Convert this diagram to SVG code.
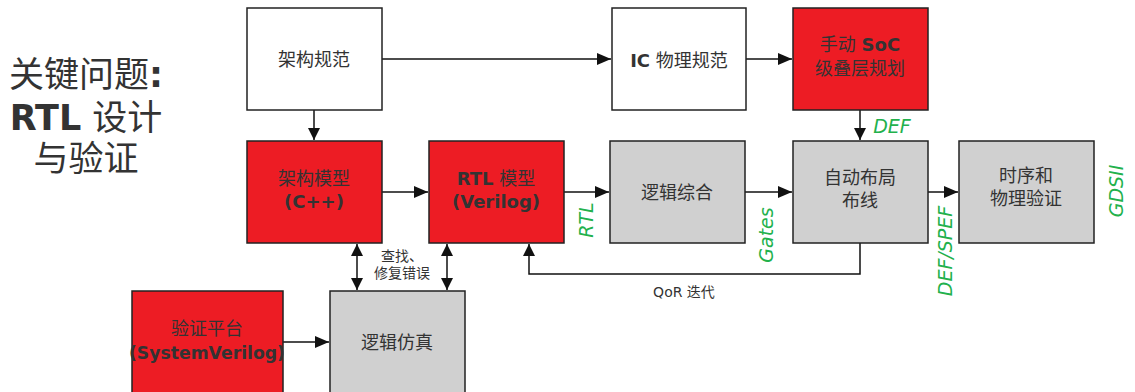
<svg xmlns="http://www.w3.org/2000/svg" width="1135" height="392" viewBox="0 0 1135 392">
<defs>
<style>
.box{stroke:#222;stroke-width:1.5}
.w{fill:#fff}.r{fill:#ED1C24}.g{fill:#D0D0D0}
text{font-family:"DejaVu Sans","Noto Sans CJK SC",sans-serif;fill:#333;text-anchor:middle;dominant-baseline:central}
.t{font-size:18px}
.b{font-weight:bold}
.gr{fill:#22B14C;font-style:italic;font-size:19px}
.s{font-size:14px}
.ttl{font-size:35px;fill:#333}
.ln{stroke:#111;stroke-width:1.5;fill:none}
</style>
<marker id="ah" viewBox="0 0 12 12" refX="12" refY="6" markerWidth="12" markerHeight="12" markerUnits="userSpaceOnUse" orient="auto-start-reverse"><path d="M0,0L12,6L0,12z" fill="#111"/></marker>
<marker id="ahb" viewBox="0 0 14 12" refX="14" refY="6" markerWidth="14" markerHeight="12" markerUnits="userSpaceOnUse" orient="auto-start-reverse"><path d="M0,0L14,6L0,12z" fill="#111"/></marker>
</defs>
<g id="title">
<text class="ttl" x="86" y="75">关键问题<tspan class="b">:</tspan></text>
<text class="ttl" x="86" y="118"><tspan class="b">RTL</tspan> 设计</text>
<text class="ttl" x="86" y="159">与验证</text>
</g>
<g id="connectors">
<line class="ln" x1="382" y1="59" x2="611" y2="59" marker-end="url(#ahb)"/>
<line class="ln" x1="746" y1="59" x2="792" y2="59" marker-end="url(#ahb)"/>
<line class="ln" x1="314" y1="110" x2="314" y2="140" marker-end="url(#ah)"/>
<line class="ln" x1="860" y1="110" x2="860" y2="140" marker-end="url(#ah)"/>
<line class="ln" x1="382" y1="192" x2="428" y2="192" marker-end="url(#ahb)"/>
<line class="ln" x1="564" y1="192" x2="609" y2="192" marker-end="url(#ahb)"/>
<line class="ln" x1="745" y1="192" x2="792" y2="192" marker-end="url(#ahb)"/>
<line class="ln" x1="928" y1="192" x2="958" y2="192" marker-end="url(#ahb)"/>
<line class="ln" x1="357" y1="244" x2="357" y2="290" marker-start="url(#ah)" marker-end="url(#ah)"/>
<line class="ln" x1="447" y1="244" x2="447" y2="290" marker-start="url(#ah)" marker-end="url(#ah)"/>
<line class="ln" x1="283" y1="342" x2="329" y2="342" marker-end="url(#ahb)"/>
<polyline class="ln" points="860,243 860,274 529,274 529,244" marker-end="url(#ah)"/>
<text class="s" x="684" y="292">QoR 迭代</text>
<text class="s" x="402" y="256">查找、</text>
<text class="s" x="402" y="273">修复错误</text>
<text class="gr" x="892" y="126">DEF</text>
<text class="gr" transform="translate(586,220) rotate(-90)">RTL</text>
<text class="gr" transform="translate(766,235) rotate(-90)">Gates</text>
<text class="gr" transform="translate(945,251) rotate(-90)">DEF/SPEF</text>
<text class="gr" transform="translate(1116,191) rotate(-90)">GDSII</text>
</g>
<g id="n1"><rect class="box w" x="247" y="8" width="135" height="102"/><text class="t" x="314" y="59">架构规范</text></g>
<g id="n2"><rect class="box w" x="612" y="8" width="134" height="102"/><text class="t" x="679" y="60"><tspan class="b">IC</tspan> 物理规范</text></g>
<g id="n3"><rect class="box r" x="793" y="8" width="135" height="102"/><text class="t" x="860" y="44">手动 <tspan class="b">SoC</tspan></text><text class="t" x="860" y="68">级叠层规划</text></g>
<g id="n4"><rect class="box r" x="247" y="141" width="135" height="102"/><text class="t" x="314" y="178">架构模型</text><text class="t b" x="314" y="201">(C++)</text></g>
<g id="n5"><rect class="box r" x="429" y="141" width="135" height="102"/><text class="t" x="496" y="178"><tspan class="b">RTL</tspan> 模型</text><text class="t b" x="496" y="201">(Verilog)</text></g>
<g id="n6"><rect class="box g" x="610" y="141" width="135" height="102"/><text class="t" x="677" y="192">逻辑综合</text></g>
<g id="n7"><rect class="box g" x="793" y="141" width="135" height="102"/><text class="t" x="860" y="177">自动布局</text><text class="t" x="860" y="200">布线</text></g>
<g id="n8"><rect class="box g" x="959" y="141" width="135" height="102"/><text class="t" x="1026" y="175">时序和</text><text class="t" x="1026" y="198">物理验证</text></g>
<g id="n9"><rect class="box r" x="132" y="291" width="151" height="110"/><text class="t" x="207" y="328">验证平台</text><text class="t b" x="207" y="352" textLength="156" lengthAdjust="spacingAndGlyphs">(SystemVerilog)</text></g>
<g id="n10"><rect class="box g" x="330" y="291" width="135" height="110"/><text class="t" x="397" y="342">逻辑仿真</text></g>
</svg>
